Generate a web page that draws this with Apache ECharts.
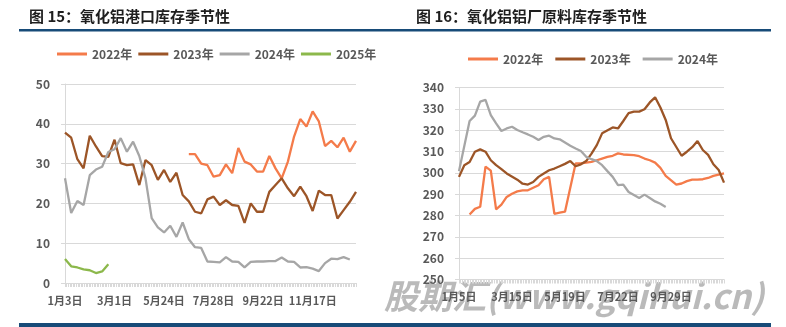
<!DOCTYPE html>
<html>
<head>
<meta charset="utf-8">
<script src="https://cdn.jsdelivr.net/npm/echarts@6/dist/echarts.min.js"></script>
<style>
html,body{margin:0;padding:0;background:#fff;}
#c{width:786px;height:327px;}
</style>
</head>
<body>
<div id="c"></div>
<script>
// 图15：氧化铝港口库存（万吨），周度
const portDates = ['1月3日','1月10日','1月17日','1月24日','1月31日','2月7日','2月14日','2月21日','3月1日','3月11日','3月22日','4月1日','4月12日','4月22日','5月3日','5月13日','5月24日','6月2日','6月10日','6月18日','6月26日','7月4日','7月12日','7月20日','7月28日','8月4日','8月11日','8月18日','8月25日','9月1日','9月8日','9月15日','9月22日','9月29日','10月6日','10月13日','10月20日','10月27日','11月3日','11月10日','11月17日','11月23日','11月30日','12月6日','12月12日','12月18日','12月24日','12月30日'];
const port2022 = [null,null,null,null,null,null,null,null,null,null,null,null,null,null,null,null,null,null,null,null,32.4,32.4,30.0,29.6,26.7,27.1,29.8,27.6,33.9,30.5,29.8,28.0,28.0,31.9,28.8,26.3,30.5,36.8,41.2,39.3,43.1,40.6,34.4,35.7,34.1,36.5,33.0,35.7];
const port2023 = [37.8,36.5,31.1,28.8,37.0,34.3,31.9,31.7,36.0,30.1,29.6,29.8,24.6,30.9,29.6,25.9,28.4,25.4,27.7,22.1,20.5,17.9,17.5,21.0,21.7,19.6,20.8,19.6,19.4,15.1,20.0,17.9,17.9,22.9,24.6,26.3,23.8,21.8,24.2,21.8,18.1,23.2,22.1,22.1,16.2,18.3,20.4,22.9];
const port2024 = [26.3,17.6,20.6,19.6,27.1,28.5,29.2,32.9,33.6,36.4,33.0,35.5,31.9,26.3,16.3,14.0,12.7,14.4,11.6,15.2,11.0,9.0,8.8,5.4,5.3,5.2,6.5,5.4,5.3,3.9,5.3,5.4,5.4,5.5,5.5,6.4,5.4,5.3,3.9,4.0,3.6,3.0,5.0,6.1,6.0,6.5,5.9];
const port2025 = [6.0,4.2,3.9,3.4,3.2,2.5,2.9,4.7];

// 图16：氧化铝铝厂原料库存（万吨），周度
const plantDates = ['1月5日','1月12日','1月19日','1月26日','2月2日','2月9日','2月16日','2月23日','3月1日','3月8日','3月15日','3月22日','3月29日','4月5日','4月12日','4月19日','4月26日','5月3日','5月8日','5月13日','5月19日','5月26日','6月2日','6月9日','6月16日','6月23日','6月30日','7月5日','7月10日','7月16日','7月22日','7月29日','8月5日','8月12日','8月19日','8月26日','9月2日','9月9日','9月16日','9月22日','9月29日','10月13日','10月20日','10月27日','11月3日','11月10日','11月17日','11月24日','12月1日','12月8日','12月15日'];
const plant2022 = [null,null,280.5,283.1,284.1,302.9,301.0,282.9,285.1,288.7,290.2,291.3,291.8,291.8,null,294.2,297.0,298.1,280.8,281.3,281.8,null,304.4,304.4,304.8,305.1,305.9,306.7,307.5,308.0,309.1,308.6,null,308.3,307.8,306.7,305.9,304.8,302.3,298.6,null,294.5,295.0,296.1,296.8,296.8,297.0,297.6,298.6,299.2,299.7];
const plant2023 = [298.1,303.6,305.1,309.9,311.0,309.9,305.9,303.6,301.7,299.7,null,296.8,294.9,294.5,295.7,298.1,299.7,301.2,302.0,303.1,304.2,305.5,303.1,304.0,305.5,309.0,313.0,318.5,null,321.3,320.8,324.3,328.0,328.7,328.7,329.8,333.0,335.4,330.6,324.8,316.2,null,308.0,309.9,312.0,314.9,310.7,308.4,304.0,301.3,295.4];
const plant2024 = [300.8,null,324.3,326.8,333.4,334.2,327.1,323.2,319.6,320.8,321.6,320.1,319.0,318.0,316.9,315.4,316.9,317.4,316.1,315.7,null,312.7,311.4,310.2,307.5,306.4,305.5,303.6,300.8,298.1,294.2,294.5,291.0,null,288.2,289.8,288.2,286.6,285.5,284.0];

const portTicks = [0, 50, 10];      // min, max, step
const plantTicks = [250, 340, 10];

const FONT = '"Noto Sans CJK SC", "Liberation Sans", sans-serif';
const LABEL = '#595959';
const GRID_LINE = '#d9d9d9';
const BAR = '#174b78';
const COLORS = {'2022年':'#F47B4A','2023年':'#9C5527','2024年':'#A6A6A6','2025年':'#8CB84B'};

function line(name, data, idx) {
  return {
    name, type:'line', data, xAxisIndex:idx, yAxisIndex:idx,
    symbol:'none', connectNulls:true, animation:false,
    lineStyle:{width:2.3, color:COLORS[name]},
    itemStyle:{color:COLORS[name]},
    emphasis:{disabled:true}
  };
}

function catAxis(idx, data, interval) {
  return {
    gridIndex:idx, type:'category', data, boundaryGap:false,
    axisLine:{show:true, lineStyle:{color:GRID_LINE}},
    axisTick:{show:false},
    axisLabel:{interval, margin:12, fontSize:11, fontWeight:'bold', color:LABEL, fontFamily:FONT}
  };
}

// fine hatch of ticks under each category axis
function hatchAxis(idx, count) {
  return {
    gridIndex:idx, type:'value', min:0, max:count, interval:1, position:'bottom',
    axisLine:{show:false}, axisLabel:{show:false}, splitLine:{show:false},
    axisTick:{show:true, length:4, lineStyle:{color:GRID_LINE, width:1}}
  };
}

function valAxis(idx, t) {
  return {
    gridIndex:idx, type:'value', min:t[0], max:t[1], interval:t[2],
    axisLine:{show:true, lineStyle:{color:GRID_LINE}},
    axisTick:{show:true, length:4, lineStyle:{color:GRID_LINE}},
    splitLine:{show:true, lineStyle:{color:GRID_LINE, width:1}},
    axisLabel:{margin:15, fontSize:12, fontWeight:'bold', color:LABEL, fontFamily:FONT}
  };
}

const legendBase = {
  icon:'rect', itemWidth:30, itemHeight:3, orient:'horizontal', padding:0,
  textStyle:{fontSize:12, fontWeight:'bold', color:LABEL, fontFamily:FONT},
  selectedMode:false
};

const chart = echarts.init(document.getElementById('c'));
chart.setOption({
  animation:false,
  backgroundColor:'#fff',
  grid:[
    {left:65, top:84, width:291, height:199},
    {left:459, top:87.5, width:265, height:192}
  ],
  legend:[
    Object.assign({}, legendBase, {left:57, top:48, itemGap:6, data:['2022年','2023年','2024年','2025年']}),
    Object.assign({}, legendBase, {left:468, top:53, itemGap:12, data:['2022年','2023年','2024年']})
  ],
  xAxis:[
    catAxis(0, portDates, 7),
    catAxis(1, plantDates, (i) => i % 10 === 0 && i < 50),
    hatchAxis(0, 182),
    hatchAxis(1, 165)
  ],
  yAxis:[ valAxis(0, portTicks), valAxis(1, plantTicks) ],
  series:[
    line('2022年', port2022, 0),
    line('2023年', port2023, 0),
    line('2024年', port2024, 0),
    line('2025年', port2025, 0),
    line('2022年', plant2022, 1),
    line('2023年', plant2023, 1),
    line('2024年', plant2024, 1)
  ],
  graphic:[
    {type:'text', left:29, top:9, style:{text:'图 15：氧化铝港口库存季节性', font:'bold 15px ' + FONT, fill:'#1e1e1e'}},
    {type:'text', left:416, top:9, style:{text:'图 16：氧化铝铝厂原料库存季节性', font:'bold 15px ' + FONT, fill:'#1e1e1e'}},
    {type:'rect', shape:{x:19, y:29, width:752, height:2.6}, style:{fill:BAR}},
    {type:'rect', shape:{x:19, y:323, width:752, height:4}, style:{fill:BAR}},
    {type:'text', z:-1, left:384, top:279, style:{text:'股期汇(www.gqihui.cn)', font:'italic bold 34px ' + FONT, fill:'rgba(140,140,140,0.6)'}}
  ]
});
</script>
</body>
</html>
